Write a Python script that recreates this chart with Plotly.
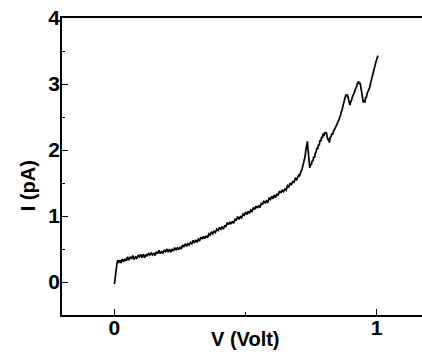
import plotly.graph_objects as go

# Voltage (V) and current (pA)
volt = [0.000, 0.002, 0.004, 0.006, 0.008, 0.010, 0.013, 0.016,
        0.020, 0.025, 0.030, 0.035, 0.040, 0.045, 0.050,
        0.055, 0.060, 0.065, 0.070, 0.075, 0.080, 0.085, 0.090, 0.095, 0.100,
        0.105, 0.110, 0.115, 0.120, 0.125, 0.130, 0.135, 0.140, 0.145, 0.150,
        0.155, 0.160, 0.165, 0.170, 0.175, 0.180, 0.185, 0.190, 0.195, 0.200,
        0.205, 0.210, 0.215, 0.220, 0.225, 0.230, 0.235, 0.240, 0.245, 0.250,
        0.255, 0.260, 0.265, 0.270, 0.275, 0.280, 0.285, 0.290, 0.295, 0.300,
        0.305, 0.310, 0.315, 0.320, 0.325, 0.330, 0.335, 0.340, 0.345, 0.350,
        0.355, 0.360, 0.365, 0.370, 0.375, 0.380, 0.385, 0.390, 0.395, 0.400,
        0.405, 0.410, 0.415, 0.420, 0.425, 0.430, 0.435, 0.440, 0.445, 0.450,
        0.455, 0.460, 0.465, 0.470, 0.475, 0.480, 0.485, 0.490, 0.495, 0.500,
        0.505, 0.510, 0.515, 0.520, 0.525, 0.530, 0.535, 0.540, 0.545, 0.550,
        0.555, 0.560, 0.565, 0.570, 0.575, 0.580, 0.585, 0.590, 0.595, 0.600,
        0.605, 0.610, 0.615, 0.620, 0.625, 0.630, 0.635, 0.640, 0.645, 0.650,
        0.655, 0.660, 0.665, 0.670, 0.675, 0.680, 0.685, 0.690, 0.695, 0.700,
        0.703, 0.706, 0.709, 0.712, 0.715, 0.718, 0.721, 0.724, 0.727, 0.730,
        0.733, 0.736, 0.738, 0.740, 0.742, 0.745, 0.748, 0.751, 0.754, 0.757,
        0.760, 0.763, 0.766, 0.769, 0.772, 0.775, 0.778, 0.781, 0.784, 0.787,
        0.790, 0.793, 0.796, 0.799, 0.802, 0.805, 0.808, 0.811, 0.814, 0.817,
        0.820, 0.823, 0.826, 0.829, 0.832, 0.835, 0.838, 0.841, 0.844, 0.847,
        0.850, 0.853, 0.856, 0.859, 0.862, 0.865, 0.868, 0.871, 0.874, 0.877,
        0.880, 0.883, 0.886, 0.889, 0.892, 0.895, 0.898, 0.901, 0.904, 0.907,
        0.910, 0.913, 0.916, 0.919, 0.922, 0.925, 0.928, 0.931, 0.934, 0.937,
        0.940, 0.943, 0.946, 0.949, 0.952, 0.955, 0.958, 0.961, 0.964, 0.967,
        0.970, 0.973, 0.976, 0.979, 0.982, 0.985, 0.988, 0.991, 0.994, 0.997,
        1.000, 1.003, 1.005]

current = [-0.03, 0.05, 0.15, 0.21, 0.26, 0.29, 0.33, 0.29,
           0.33, 0.29, 0.35, 0.31, 0.35, 0.32, 0.38,
           0.33, 0.38, 0.35, 0.40, 0.34, 0.38, 0.36, 0.40, 0.38, 0.42,
           0.37, 0.42, 0.37, 0.42, 0.39, 0.44, 0.41, 0.44, 0.41, 0.44,
           0.40, 0.46, 0.43, 0.48, 0.43, 0.46, 0.44, 0.48, 0.46, 0.50,
           0.45, 0.50, 0.45, 0.50, 0.47, 0.52, 0.49, 0.52, 0.49, 0.53,
           0.50, 0.56, 0.53, 0.58, 0.54, 0.58, 0.56, 0.60, 0.58, 0.63,
           0.59, 0.64, 0.60, 0.65, 0.63, 0.68, 0.65, 0.69, 0.66, 0.70,
           0.67, 0.73, 0.71, 0.76, 0.73, 0.77, 0.75, 0.80, 0.78, 0.83,
           0.79, 0.84, 0.80, 0.85, 0.84, 0.90, 0.87, 0.91, 0.88, 0.92,
           0.89, 0.95, 0.94, 0.99, 0.95, 0.99, 0.97, 1.03, 1.01, 1.06,
           1.02, 1.07, 1.04, 1.09, 1.07, 1.13, 1.10, 1.15, 1.12, 1.16,
           1.13, 1.19, 1.18, 1.23, 1.19, 1.23, 1.21, 1.27, 1.25, 1.30,
           1.26, 1.32, 1.28, 1.33, 1.32, 1.38, 1.35, 1.39, 1.37, 1.41,
           1.39, 1.46, 1.44, 1.50, 1.47, 1.52, 1.51, 1.57, 1.55, 1.60,
           1.62, 1.61, 1.66, 1.68, 1.70, 1.75, 1.76, 1.84, 1.90, 2.00,
           2.10, 2.13, 2.02, 1.88, 1.78, 1.73, 1.79, 1.77, 1.84, 1.83,
           1.90, 1.88, 1.95, 1.97, 2.03, 2.01, 2.08, 2.07, 2.15, 2.13,
           2.20, 2.18, 2.25, 2.21, 2.27, 2.24, 2.27, 2.22, 2.15, 2.18,
           2.11, 2.19, 2.20, 2.25, 2.23, 2.28, 2.30, 2.33, 2.35, 2.38,
           2.40, 2.44, 2.45, 2.50, 2.52, 2.58, 2.60, 2.66, 2.72, 2.78,
           2.80, 2.84, 2.82, 2.83, 2.76, 2.70, 2.68, 2.73, 2.75, 2.80,
           2.82, 2.86, 2.88, 2.92, 2.94, 2.98, 3.02, 3.04, 3.00, 3.02,
           2.95, 2.86, 2.76, 2.72, 2.74, 2.73, 2.79, 2.80, 2.86, 2.88,
           2.92, 2.94, 3.00, 3.04, 3.08, 3.13, 3.18, 3.24, 3.28, 3.33,
           3.37, 3.42, 3.43]

x_ticks = [0, 1]
x_tick_labels = ["0", "1"]
y_ticks = [0, 1, 2, 3, 4]
y_tick_labels = ["0", "1", "2", "3", "4"]
x_title = "V (Volt)"
y_title = "I (pA)"

FONT = "Liberation Sans, Arial, sans-serif"

fig = go.Figure()
fig.add_trace(go.Scatter(x=volt, y=current, mode="lines",
                         line=dict(color="black", width=1.7),
                         showlegend=False, hoverinfo="skip"))

fig.update_layout(
    width=422, height=356,
    margin=dict(l=62, r=0, t=18, b=41),
    paper_bgcolor="white", plot_bgcolor="white",
    font=dict(family=FONT, color="black"),
    xaxis=dict(range=[-0.2, 1.173], tickvals=x_ticks, ticktext=x_tick_labels,
               ticks="inside", ticklen=6, tickwidth=1.2, tickcolor="black",
               minor=dict(tickvals=[0.5], ticks="inside", ticklen=3,
                          tickwidth=1.2, tickcolor="black"),
               showline=True, linecolor="black", linewidth=1.5, mirror=True,
               showgrid=False, zeroline=False,
               tickfont=dict(family=FONT, size=21, color="black", weight="bold"),
               ticklabelstandoff=-7),
    yaxis=dict(range=[-0.5, 4], tickvals=y_ticks, ticktext=y_tick_labels,
               ticks="inside", ticklen=6, tickwidth=1.2, tickcolor="black",
               minor=dict(tickvals=[-0.5, 0.5, 1.5, 2.5, 3.5], ticks="inside",
                          ticklen=3, tickwidth=1.2, tickcolor="black"),
               showline=True, linecolor="black", linewidth=1.5, mirror=False,
               showgrid=False, zeroline=False,
               tickfont=dict(family=FONT, size=21, color="black", weight="bold"),
               ticklabelstandoff=-4),
    annotations=[
        dict(text=x_title, xref="x", yref="paper", x=0.5, y=-0.08,
             xanchor="center", yanchor="middle", showarrow=False,
             font=dict(family=FONT, size=20, color="black", weight="bold")),
        dict(text=y_title, xref="paper", yref="paper", x=-0.094, y=0.434,
             xanchor="center", yanchor="middle", textangle=-90, showarrow=False,
             font=dict(family=FONT, size=20, color="black", weight="bold")),
    ],
)

fig.write_html("out.html")
